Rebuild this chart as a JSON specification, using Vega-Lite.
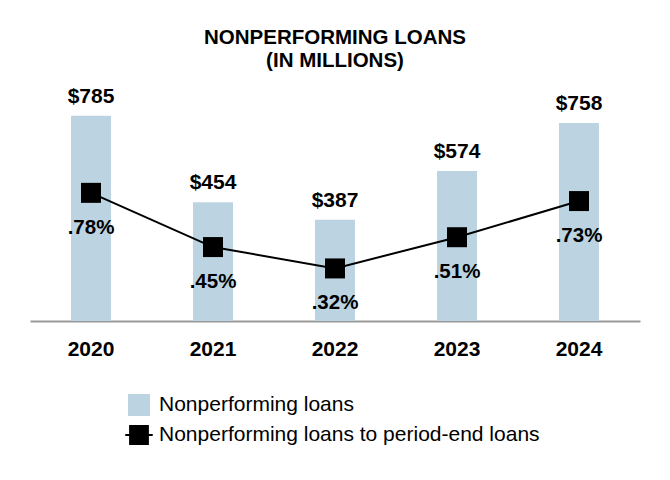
{
  "$schema": "https://vega.github.io/schema/vega-lite/v6.json",
  "autosize": {"type": "none"},
  "width": 610,
  "height": 230,
  "padding": {"left": 30, "top": 91, "right": 30, "bottom": 159},
  "background": "white",
  "title": {
    "text": ["NONPERFORMING LOANS", "(IN MILLIONS)"],
    "font": "Liberation Sans",
    "fontSize": 20.5,
    "fontWeight": "bold",
    "color": "black",
    "lineHeight": 23.5,
    "anchor": "middle",
    "offset": 14
  },
  "data": {
    "values": [
      {"year": "2020", "npl": 785, "npl_label": "$785", "ratio": 0.78, "ratio_label": ".78%"},
      {"year": "2021", "npl": 454, "npl_label": "$454", "ratio": 0.45, "ratio_label": ".45%"},
      {"year": "2022", "npl": 387, "npl_label": "$387", "ratio": 0.32, "ratio_label": ".32%"},
      {"year": "2023", "npl": 574, "npl_label": "$574", "ratio": 0.51, "ratio_label": ".51%"},
      {"year": "2024", "npl": 758, "npl_label": "$758", "ratio": 0.73, "ratio_label": ".73%"}
    ]
  },
  "encoding": {
    "x": {
      "field": "year",
      "type": "nominal",
      "sort": null,
      "scale": {"paddingInner": 0, "paddingOuter": 0},
      "axis": {
        "title": null,
        "labelAngle": 0,
        "labelFont": "Liberation Sans",
        "labelFontSize": 21,
        "labelFontWeight": "bold",
        "labelColor": "black",
        "labelPadding": 17,
        "ticks": false,
        "domainColor": "#9a9a9a",
        "domainWidth": 2,
        "grid": false
      }
    }
  },
  "layer": [
    {
      "layer": [
        {
          "mark": {"type": "bar", "width": 40},
          "encoding": {
            "y": {"field": "npl", "type": "quantitative", "scale": {"domain": [0, 880], "nice": false}, "axis": null},
            "color": {
              "datum": "Nonperforming loans",
              "type": "nominal",
              "legend": {
                "encode": {
                  "symbols": {
                    "update": {
                      "shape": {"signal": "datum.value === 'Nonperforming loans' ? 'square' : 'M-0.9,-0.9H0.9V0.9H-0.9Z M-1.25,-0.09H1.25V0.09H-1.25Z'"}
                    }
                  }
                }
              }
            }
          }
        },
        {
          "mark": {"type": "text", "baseline": "alphabetic", "dy": -13, "font": "Liberation Sans", "fontSize": 21, "fontWeight": "bold", "color": "black"},
          "encoding": {
            "y": {"field": "npl", "type": "quantitative", "scale": {"domain": [0, 880], "nice": false}, "axis": null},
            "text": {"field": "npl_label"}
          }
        }
      ]
    },
    {
      "layer": [
        {
          "mark": {"type": "line", "color": "black", "strokeWidth": 2},
          "encoding": {
            "y": {"field": "ratio", "type": "quantitative", "scale": {"domain": [0, 1.4], "nice": false}, "axis": null}
          }
        },
        {
          "mark": {"type": "point", "shape": "square", "filled": true, "size": 400, "opacity": 1},
          "encoding": {
            "y": {"field": "ratio", "type": "quantitative", "scale": {"domain": [0, 1.4], "nice": false}, "axis": null},
            "color": {"datum": "Nonperforming loans to period-end loans", "type": "nominal"}
          }
        },
        {
          "mark": {"type": "text", "baseline": "middle", "dy": 35, "font": "Liberation Sans", "fontSize": 20.5, "fontWeight": "bold", "color": "black"},
          "encoding": {
            "y": {"field": "ratio", "type": "quantitative", "scale": {"domain": [0, 1.4], "nice": false}, "axis": null},
            "text": {"field": "ratio_label"}
          }
        }
      ],
      "resolve": {"scale": {"y": "shared"}}
    }
  ],
  "resolve": {"scale": {"y": "independent"}},
  "config": {
    "view": {"stroke": null},
    "range": {"category": ["#bcd4e2", "black"]},
    "legend": {
      "orient": "none",
      "legendX": 98,
      "legendY": 303,
      "title": null,
      "symbolType": "square",
      "symbolSize": 484,
      "symbolStrokeWidth": 0,
      "symbolOpacity": 1,
      "labelFont": "Liberation Sans",
      "labelFontSize": 21,
      "labelColor": "black",
      "labelOffset": 9,
      "labelLimit": 0,
      "rowPadding": 8,
      "direction": "vertical"
    }
  }
}
